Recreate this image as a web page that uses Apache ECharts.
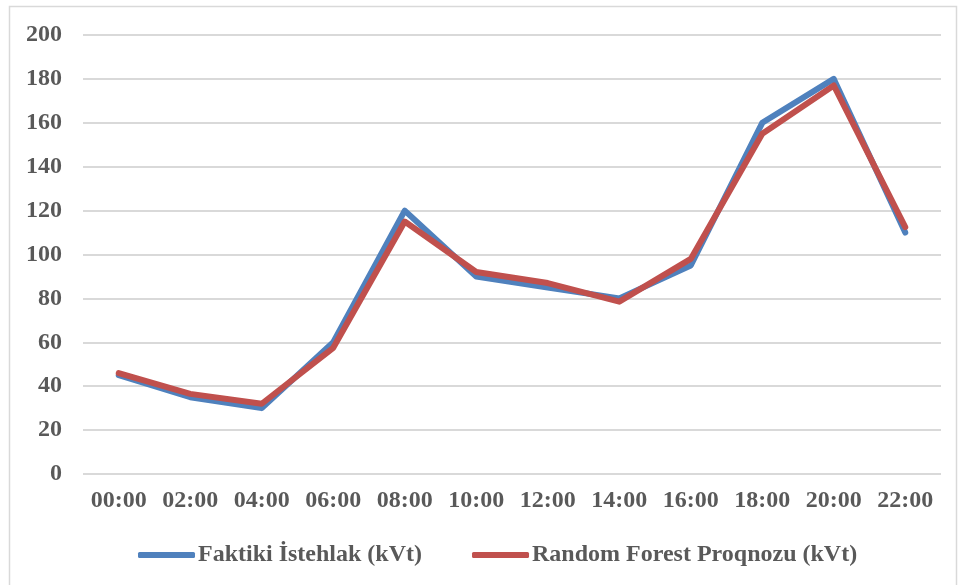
<!DOCTYPE html>
<html>
<head>
<meta charset="utf-8">
<script src="https://cdn.jsdelivr.net/npm/echarts@6/dist/echarts.min.js"></script>
<style>
  html, body { margin: 0; padding: 0; background: #ffffff; }
  #chart { width: 958px; height: 585px; }
</style>
</head>
<body>
<div id="chart"></div>
<script>
// Hourly load: measured consumption vs. Random Forest forecast (kVt)
const hours = ['00:00', '02:00', '04:00', '06:00', '08:00', '10:00',
               '12:00', '14:00', '16:00', '18:00', '20:00', '22:00'];
const actualLoad = [45, 35, 30, 60, 120, 90, 85, 80, 95, 160, 180, 110];
const forecastLoad = [46, 36.5, 32, 57.5, 115, 92, 87, 78.5, 98, 155, 177, 112.5];
const seriesNames = ['Faktiki İstehlak (kVt)', 'Random Forest Proqnozu (kVt)'];
const yTicks = { min: 0, max: 200, step: 20 };

const fontFamily = '"Liberation Serif", "Times New Roman", serif';
const textColor = '#595959';

const chart = echarts.init(document.getElementById('chart'), null, { renderer: 'canvas' });

chart.setOption({
  animation: false,
  backgroundColor: '#ffffff',
  graphic: [{
    type: 'rect',
    shape: { x: 9.5, y: 6.5, width: 947, height: 600 },
    style: { fill: 'none', stroke: '#d9d9d9', lineWidth: 1.5 },
    silent: true,
    z: -1
  }],
  grid: { left: 83, right: 17, top: 35, bottom: 111, containLabel: false },
  legend: {
    data: seriesNames,
    left: 133,
    top: 538,
    itemWidth: 57,
    itemHeight: 6,
    itemGap: 50,
    icon: 'roundRect',
    textStyle: {
      fontFamily: fontFamily,
      fontWeight: 'bold',
      fontSize: 24,
      color: textColor,
      padding: [0, 0, 0, -2]
    }
  },
  xAxis: {
    type: 'category',
    data: hours,
    boundaryGap: true,
    axisLine: { show: false },
    axisTick: { show: false },
    axisLabel: {
      margin: 15,
      fontFamily: fontFamily,
      fontWeight: 'bold',
      fontSize: 24,
      color: textColor,
      interval: 0
    }
  },
  yAxis: {
    type: 'value',
    min: yTicks.min,
    max: yTicks.max,
    interval: yTicks.step,
    axisLine: { show: false },
    axisTick: { show: false },
    splitLine: { lineStyle: { color: '#d9d9d9', width: 2 } },
    axisLabel: {
      margin: 21,
      fontFamily: fontFamily,
      fontWeight: 'bold',
      fontSize: 24,
      color: textColor
    }
  },
  series: [
    {
      name: seriesNames[0],
      type: 'line',
      data: actualLoad,
      showSymbol: false,
      symbol: 'none',
      color: '#4f81bd',
      lineStyle: { width: 6, color: '#4f81bd', cap: 'round', join: 'round' },
      z: 2
    },
    {
      name: seriesNames[1],
      type: 'line',
      data: forecastLoad,
      showSymbol: false,
      symbol: 'none',
      color: '#c0504d',
      lineStyle: { width: 6, color: '#c0504d', cap: 'round', join: 'round' },
      z: 3
    }
  ]
});
</script>
</body>
</html>
